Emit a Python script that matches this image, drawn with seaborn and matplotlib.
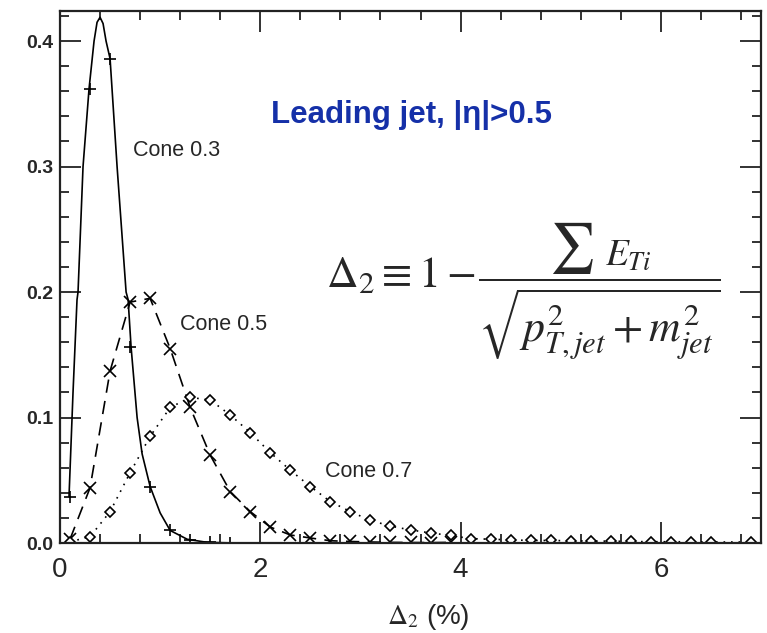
import numpy as np
import pandas as pd
import matplotlib
matplotlib.use("Agg")
import matplotlib.pyplot as plt
import seaborn as sns
from matplotlib.ticker import MultipleLocator

sns.set_theme(style="white")
plt.rcParams['font.family'] = ['Liberation Sans', 'DejaVu Sans']
plt.rcParams['mathtext.fontset'] = 'stix'

# ---- data ----
# Cone 0.3: smooth curve points and marker points
c3_line_x = [0.09, 0.13, 0.17, 0.18, 0.23, 0.29, 0.34, 0.37, 0.40, 0.43, 0.46, 0.50,
             0.57, 0.66, 0.68, 0.71, 0.77, 0.82, 0.90, 1.00, 1.10, 1.27, 1.47, 1.75]
c3_line_y = [0.037, 0.12, 0.194, 0.20, 0.30, 0.362, 0.40, 0.415, 0.419, 0.414, 0.40, 0.386,
             0.30, 0.20, 0.194, 0.156, 0.10, 0.071, 0.045, 0.024, 0.010, 0.003, 0.0005, 0.0]
c3_x = [0.1, 0.3, 0.5, 0.7, 0.9, 1.1, 1.3, 1.5, 1.7]
c3_y = [0.037, 0.362, 0.386, 0.156, 0.045, 0.0104, 0.002, 0.0005, 0.0002]

# Cone 0.5
c5_x = [0.1, 0.3, 0.5, 0.7, 0.9, 1.1, 1.3, 1.5, 1.7, 1.9, 2.1, 2.3, 2.5, 2.7, 2.9,
        3.1, 3.3, 3.5, 3.7, 3.9]
c5_y = [0.003, 0.044, 0.137, 0.192, 0.195, 0.155, 0.108, 0.070, 0.041, 0.025, 0.0127,
        0.0064, 0.004, 0.0018, 0.0012, 0.0008, 0.0005, 0.0004, 0.0003, 0.0005]

# Cone 0.7
c7_x = [0.1, 0.3, 0.5, 0.7, 0.9, 1.1, 1.3, 1.5, 1.7, 1.9, 2.1, 2.3, 2.5, 2.7, 2.9,
        3.1, 3.3, 3.5, 3.7, 3.9, 4.1, 4.3, 4.5, 4.7, 4.9, 5.1, 5.3, 5.5, 5.7, 5.9,
        6.1, 6.3, 6.5, 6.9]
c7_y = [0.001, 0.005, 0.025, 0.056, 0.085, 0.108, 0.116, 0.114, 0.102, 0.088, 0.072,
        0.058, 0.045, 0.033, 0.025, 0.018, 0.0135, 0.0104, 0.008, 0.006, 0.0035, 0.003,
        0.0025, 0.002, 0.002, 0.0018, 0.0015, 0.0015, 0.0012, 0.001, 0.001, 0.001,
        0.0008, 0.0008]

labels = ["Cone 0.3", "Cone 0.5", "Cone 0.7"]
x_ticks = [0, 2, 4, 6]
y_ticks = [0.0, 0.1, 0.2, 0.3, 0.4]
y_ticklabels = ["0.0", "0.1", "0.2", "0.3", "0.4"]

W, H = 767, 633
fig = plt.figure(figsize=(W / 100, H / 100), dpi=100)
ax = fig.add_axes([60 / W, 1 - 543 / H, (761 - 60) / W, (543 - 11) / H])

# Cone 0.3
sns.lineplot(x=c3_line_x, y=c3_line_y, ax=ax, color="black", lw=1.2, sort=False)
sns.lineplot(x=c3_x, y=c3_y, ax=ax, color="black", linestyle="none", marker="+",
             markersize=9, markeredgecolor="black", markeredgewidth=1.2)
# Cone 0.5
sns.lineplot(x=c5_x, y=c5_y, ax=ax, color="black", lw=1.2, marker="x",
             markersize=8, markeredgecolor="black", markeredgewidth=1.2)
ax.lines[-1].set_dashes([8, 5])
# Cone 0.7
sns.lineplot(x=c7_x, y=c7_y, ax=ax, color="black", lw=1.2, linestyle=(0, (1, 3.5)),
             marker="D", markersize=5, markerfacecolor="white",
             markeredgecolor="black", markeredgewidth=1.2)

ax.set_xlim(0, 7.0)
ax.set_ylim(0, 0.424)
ax.set_xticks(x_ticks)
ax.set_xticklabels([str(t) for t in x_ticks], fontsize=20)
ax.set_yticks(y_ticks)
ax.set_yticklabels(y_ticklabels, fontsize=14, fontweight="bold")
ax.xaxis.set_minor_locator(MultipleLocator(0.4))
ax.yaxis.set_minor_locator(MultipleLocator(0.02))
ax.tick_params(which="both", direction="in", top=True, right=True, bottom=True, left=True,
               color="#222222", width=1.3)
ax.tick_params(which="major", length=15)
ax.tick_params(which="minor", length=6.5)
ax.tick_params(axis="x", which="major", pad=10)
ax.tick_params(axis="y", which="major", pad=5)
for s in ax.spines.values():
    s.set_color("#222222")
    s.set_linewidth(1.6)

ax.set_xlabel(r"$\Delta_2$ (%)", fontsize=20, va="top")
ax.xaxis.set_label_coords((428 - 60) / 701, -(602 - 543) / 532)
ax.set_ylabel("")

# annotations
ax.text(0.73, 0.313, labels[0], fontsize=15.5, ha="left", va="center")
ax.text(1.20, 0.174, labels[1], fontsize=15.5, ha="left", va="center")
ax.text(2.65, 0.0566, labels[2], fontsize=15.5, ha="left", va="center")
ax.text(2.11, 0.341, "Leading jet, |η|>0.5", fontsize=22.5, fontweight="bold",
        color="#1530a8", ha="left", va="center")


def px(x, y):
    return (x - 60) / 100.14, (543 - y) / 1254.7


# formula composed of pieces: left side, denominator with fraction bar, numerator
fx, fy = px(326, 287)
ax.text(fx, fy, r"$\Delta_2 \equiv 1 -$", fontsize=31.5, ha="left", va="baseline")
dx, dy = px(478, 276)
ax.text(dx, dy, r"$\overline{\sqrt{p_{T,jet}^2 + m_{jet}^2}}$",
        fontsize=31.5, ha="left", va="top")
sx, sy = px(549, 276)
ax.text(sx, sy, r"$\sum$", fontsize=36, ha="left", va="bottom")
ex, ey = px(605, 266)
ax.text(ex, ey, r"$E_{Ti}$", fontsize=27, ha="left", va="baseline")

fig.savefig("out.png", dpi=100, facecolor="white")
